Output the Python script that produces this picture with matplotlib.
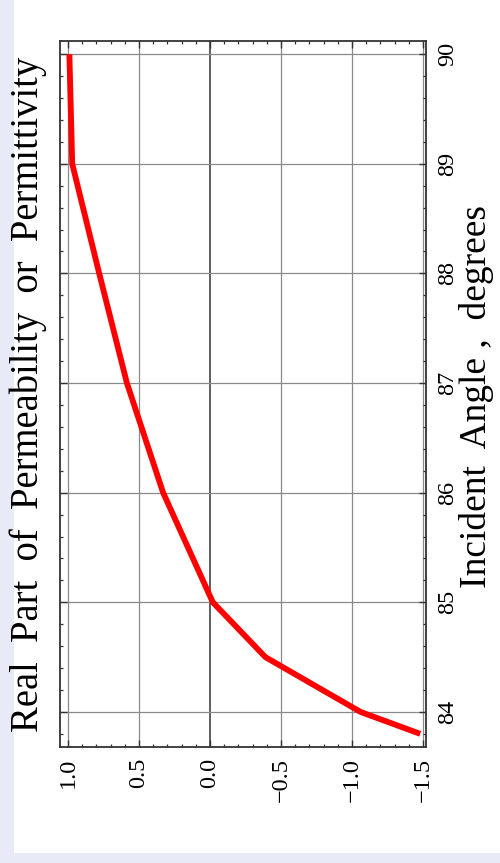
import matplotlib
matplotlib.use("Agg")
import matplotlib.pyplot as plt
from matplotlib.patches import Rectangle
from matplotlib.ticker import MultipleLocator, FixedLocator

# Data (angle in degrees, real part of permeability/permittivity)
angle = [83.8, 84.0, 84.5, 85.0, 86.0, 87.0, 88.0, 89.0, 90.0]
real_part = [-1.48, -1.06, -0.39, -0.02, 0.33, 0.585, 0.78, 0.97, 0.99]

value_ticks = [1.0, 0.5, 0.0, -0.5, -1.0, -1.5]
value_labels = ["1.0", "0.5", "0.0", "\u22120.5", "\u22121.0", "\u22121.5"]
angle_ticks = [84, 85, 86, 87, 88, 89, 90]
angle_labels = ["84", "85", "86", "87", "88", "89", "90"]

title = "Real  Part  of  Permeability  or  Permittivity"
xlabel = "Incident  Angle ,  degrees"

serif = ["Liberation Serif", "DejaVu Serif"]

fig = plt.figure(figsize=(5.0, 8.63), dpi=100)
fig.patch.set_facecolor("#e9eaf7")
bg = Rectangle((14 / 500, 10 / 863), 1 - 14 / 500, 1 - 10 / 863,
               transform=fig.transFigure, facecolor="white",
               edgecolor="none", zorder=-5)
fig.patches.append(bg)

ax = fig.add_axes([60 / 500, 1 - 747 / 863, 366 / 500, 706 / 863])
ax.set_zorder(2)
ax.set_facecolor("white")

ax.plot(real_part, angle, color="#ff0000", lw=4.2, solid_capstyle="butt",
        solid_joinstyle="miter", zorder=3)

ax.set_xlim(1.056, -1.521)
ax.set_ylim(83.68, 90.12)

for v in value_ticks:
    if v == 0.0:
        ax.axvline(v, color="#444444", lw=1.2, zorder=1)
    else:
        ax.axvline(v, color="#8a8a8a", lw=0.9, zorder=1)
for a in angle_ticks:
    ax.axhline(a, color="#8a8a8a", lw=0.9, zorder=1)

ax.xaxis.set_major_locator(FixedLocator(value_ticks))
ax.xaxis.set_minor_locator(MultipleLocator(0.1))
ax.yaxis.set_major_locator(FixedLocator(angle_ticks))
ax.yaxis.set_minor_locator(MultipleLocator(0.2))
ax.set_xticklabels(value_labels, rotation=90, fontfamily=serif, fontsize=17.5)
ax.set_yticklabels(angle_labels, rotation=90, fontfamily=serif, fontsize=17.5,
                   va="center")

ax.tick_params(axis="both", which="both", direction="in",
               top=True, bottom=True, left=True, right=True,
               labelleft=False, labelright=True, color="#333333")
ax.tick_params(which="major", length=5, width=1.0, pad=8)
ax.tick_params(which="minor", length=2.5, width=0.9)

for s in ax.spines.values():
    s.set_color("#333333")
    s.set_linewidth(1.3)

fig.text(28 / 500, 1 - 394 / 863, title, rotation=90, ha="center",
         va="center", fontfamily=serif, fontsize=27.8)
fig.text(476 / 500, 1 - 397 / 863, xlabel, rotation=90, ha="center",
         va="center", fontfamily=serif, fontsize=27)

fig.savefig("out.png", dpi=100, facecolor=fig.get_facecolor())
